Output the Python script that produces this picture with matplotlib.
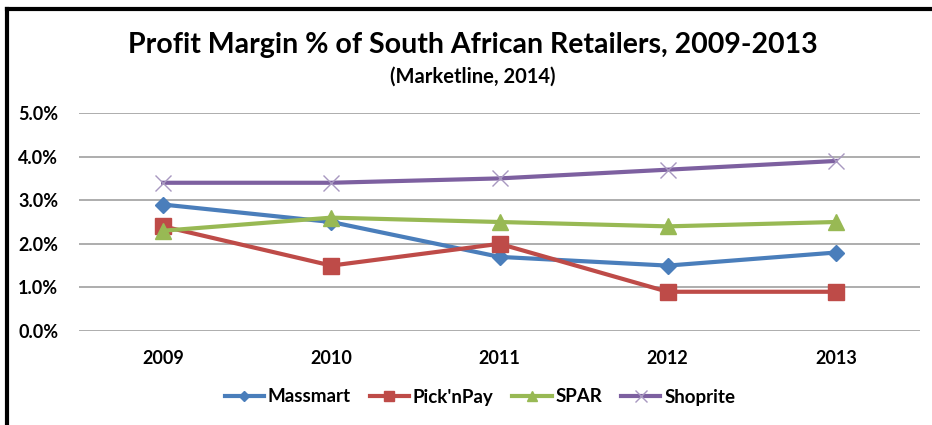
import matplotlib.pyplot as plt
from matplotlib.lines import Line2D
from matplotlib.ticker import FuncFormatter

years = ["2009", "2010", "2011", "2012", "2013"]
massmart = [2.9, 2.5, 1.7, 1.5, 1.8]
picknpay = [2.4, 1.5, 2.0, 0.9, 0.9]
spar = [2.3, 2.6, 2.5, 2.4, 2.5]
shoprite = [3.4, 3.4, 3.5, 3.7, 3.9]

plt.rcParams['font.family'] = ['Lato', 'DejaVu Sans']

fig = plt.figure(figsize=(9.32, 4.25), dpi=100)
ax = fig.add_axes([79 / 932, 1 - 331 / 425, (920 - 79) / 932, (331 - 113) / 425])

x = range(len(years))
ax.plot(x, massmart, color="#4a7ebb", lw=3, marker="D", ms=8, label="Massmart")
ax.plot(x, picknpay, color="#be4b48", lw=3, marker="s", ms=11, label="Pick'nPay")
ax.plot(x, spar, color="#98b954", lw=3, marker="^", ms=11, label="SPAR")
ax.plot(x, shoprite, color="#7d60a0", lw=3, marker="x", ms=12, mew=1,
        mec="#a898c0", label="Shoprite")

ax.set_xlim(-0.5, 4.5)
ax.set_ylim(0, 5)
ax.set_yticks([0, 1, 2, 3, 4, 5])
ax.yaxis.set_major_formatter(FuncFormatter(lambda v, p: "%.1f%%" % v))
ax.set_xticks(list(x))
ax.set_xticklabels(years)
ax.grid(axis="y", color="#a0a0a0", lw=1.2)
ax.set_axisbelow(True)
for s in ax.spines.values():
    s.set_visible(False)
ax.tick_params(length=0, labelsize=13)
ax.tick_params(axis="y", pad=15)
ax.tick_params(axis="x", pad=14)
for t in ax.get_xticklabels() + ax.get_yticklabels():
    t.set_fontweight("bold")

fig.text(0.507, 1 - 45 / 425, "Profit Margin % of South African Retailers, 2009-2013",
         ha="center", va="center", fontsize=20.5, fontweight="bold")
fig.text(0.507, 1 - 77 / 425, "(Marketline, 2014)", ha="center", va="center",
         fontsize=14.5, fontweight="bold")

fig.legend(loc="center", bbox_to_anchor=(0.515, 1 - 397 / 425), ncol=4, frameon=False,
           prop={"weight": "bold", "size": 13.5}, handlelength=2.1,
           columnspacing=1.0, handletextpad=0.2, markerscale=0.7)

# chart border (top and left edges visible in the crop)
fig.add_artist(Line2D([7 / 932, 1], [1 - 9 / 425, 1 - 9 / 425], color="black", lw=3))
fig.add_artist(Line2D([7 / 932, 7 / 932], [0, 1 - 9 / 425], color="black", lw=3))

fig.savefig("out.png", dpi=100)
